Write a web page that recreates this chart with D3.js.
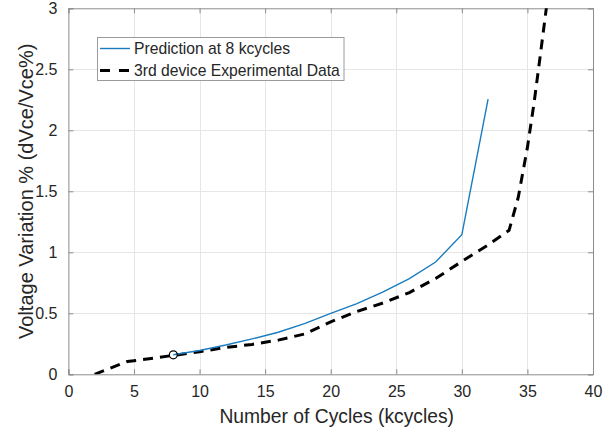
<!DOCTYPE html>
<html>
<head>
<meta charset="utf-8">
<script src="https://cdn.jsdelivr.net/npm/d3@7"></script>
<style>
  html, body { margin: 0; padding: 0; background: #fff; }
  svg { display: block; font-family: "Liberation Sans", Arial, Helvetica, sans-serif; }
</style>
</head>
<body>
<svg id="chart" width="613" height="432"></svg>
<script>
// ---- data ----
const predX = [8, 10, 12, 14, 16, 18, 20, 22, 24, 26, 28, 30, 32];
const predY = [0.16, 0.195, 0.24, 0.29, 0.345, 0.415, 0.5, 0.58, 0.675, 0.785, 0.92, 1.145, 2.255];
const expX = [2, 4.5, 6, 8, 10, 12, 14, 16, 18, 20, 22, 24, 26, 28, 30, 32, 33.6, 34.3, 35, 35.5, 36, 36.5];
const expY = [0, 0.105, 0.125, 0.155, 0.185, 0.22, 0.245, 0.28, 0.33, 0.43, 0.515, 0.585, 0.67, 0.785, 0.925, 1.06, 1.18, 1.45, 1.86, 2.22, 2.63, 3.05];
const markerX = [8];
const markerY = [0.16];
const xTicks = [0, 5, 10, 15, 20, 25, 30, 35, 40];
const yTicks = [0, 0.5, 1, 1.5, 2, 2.5, 3];
const seriesNames = ["Prediction at 8 kcycles", "3rd device Experimental Data"];
const xTitle = "Number of Cycles (kcycles)";
const yTitle = "Voltage Variation % (dVce/Vce%)";

// ---- layout ----
const mLeft = 68.4, mRight = 593, mTop = 8.3, mBottom = 374.3;
const svg = d3.select("#chart");
const x = d3.scaleLinear().domain([0, 40]).range([mLeft, mRight]);
const y = d3.scaleLinear().domain([0, 3]).range([mBottom, mTop]);
const textColor = "#262626";
const tickFont = 16;

// clip
svg.append("defs").append("clipPath").attr("id", "plotclip")
  .append("rect").attr("x", mLeft).attr("y", mTop).attr("width", mRight - mLeft).attr("height", mBottom - mTop);

// grid
const grid = svg.append("g").attr("stroke", "#e6e6e6").attr("stroke-width", 1);
grid.selectAll("line.gx").data(xTicks.slice(1, -1)).join("line")
  .attr("x1", d => Math.round(x(d)) + 0.5).attr("x2", d => Math.round(x(d)) + 0.5)
  .attr("y1", mTop).attr("y2", mBottom);
grid.selectAll("line.gy").data(yTicks.slice(1, -1)).join("line")
  .attr("y1", d => Math.round(y(d)) + 0.5).attr("y2", d => Math.round(y(d)) + 0.5)
  .attr("x1", mLeft).attr("x2", mRight);

// axes
const fmtY = d => (d === 0 ? "0" : d3.format("")(d));
const xAxis = d3.axisBottom(x).tickValues(xTicks).tickSize(-5).tickPadding(11).tickFormat(d3.format("d"));
const yAxis = d3.axisLeft(y).tickValues(yTicks).tickSize(-5).tickPadding(11).tickFormat(fmtY);
const xTopAxis = d3.axisTop(x).tickValues(xTicks).tickSize(-5).tickFormat("");
const yRightAxis = d3.axisRight(y).tickValues(yTicks).tickSize(-5).tickFormat("");

function styleAxis(g) {
  g.select(".domain").attr("stroke", "#8c8c8c").attr("stroke-width", 1);
  g.selectAll(".tick line").attr("stroke", "#8c8c8c");
  g.selectAll(".tick text").attr("fill", textColor).attr("font-size", tickFont)
    .attr("font-family", "Liberation Sans, Arial, sans-serif");
}
svg.append("g").attr("transform", `translate(0,${mBottom})`).call(xAxis).call(styleAxis);
svg.append("g").attr("transform", `translate(${mLeft},0)`).call(yAxis).call(styleAxis);
svg.append("g").attr("transform", `translate(0,${mTop})`).call(xTopAxis).call(styleAxis);
svg.append("g").attr("transform", `translate(${mRight},0)`).call(yRightAxis).call(styleAxis);

// titles
svg.append("text").attr("x", (mLeft + mRight) / 2 + 6).attr("y", 423)
  .attr("text-anchor", "middle").attr("font-size", 19.3).attr("fill", textColor).text(xTitle);
svg.append("text").attr("transform", `translate(33,${(mTop + mBottom) / 2}) rotate(-90)`)
  .attr("text-anchor", "middle").attr("font-size", 20).attr("fill", textColor).text(yTitle);

// lines
const plot = svg.append("g").attr("clip-path", "url(#plotclip)");
const predData = predX.map((d, i) => [d, predY[i]]);
const expData = expX.map((d, i) => [d, expY[i]]);
const line = d3.line().x(d => x(d[0])).y(d => y(d[1]));

plot.append("path").datum(expData).attr("d", line)
  .attr("fill", "none").attr("stroke", "#000").attr("stroke-width", 3)
  .attr("stroke-dasharray", "10,7");
plot.append("path").datum(predData).attr("d", line)
  .attr("fill", "none").attr("stroke", "#1a7cc0").attr("stroke-width", 1.4);
plot.selectAll("circle.m").data(markerX.map((d, i) => [d, markerY[i]])).join("circle")
  .attr("cx", d => x(d[0])).attr("cy", d => y(d[1])).attr("r", 4)
  .attr("fill", "none").attr("stroke", "#000").attr("stroke-width", 1.2);

// legend
const lg = svg.append("g");
lg.append("rect").attr("x", 97.5).attr("y", 37.5).attr("width", 246.5).attr("height", 43)
  .attr("fill", "#fff").attr("stroke", "#9a9a9a").attr("stroke-width", 1);
const rows = [48.5, 70.5];
lg.append("line").attr("x1", 100).attr("x2", 130).attr("y1", rows[0]).attr("y2", rows[0])
  .attr("stroke", "#1a7cc0").attr("stroke-width", 1.4);
lg.append("line").attr("x1", 100).attr("x2", 130).attr("y1", rows[1]).attr("y2", rows[1])
  .attr("stroke", "#000").attr("stroke-width", 3).attr("stroke-dasharray", "10,9");
seriesNames.forEach((s, i) => {
  lg.append("text").attr("x", 134).attr("y", rows[i]).attr("dy", "0.35em")
    .attr("font-size", 15.7).attr("fill", textColor).text(s);
});
</script>
</body>
</html>
